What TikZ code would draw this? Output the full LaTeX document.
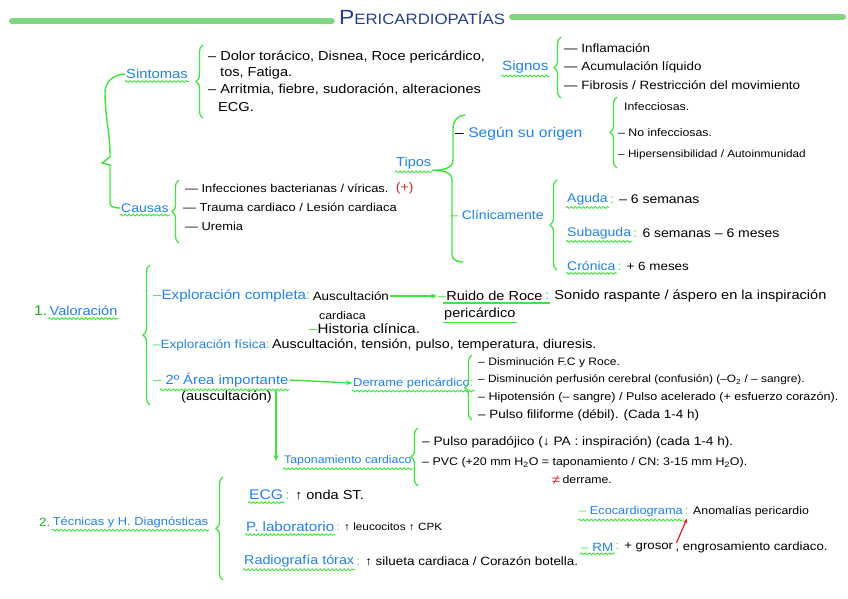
\documentclass[tikz,border=0pt]{standalone}
\usepackage{fontspec}
\setmainfont[FakeStretch=1.12]{Liberation Sans}
\usetikzlibrary{decorations.pathreplacing,decorations.pathmorphing,arrows.meta}
\definecolor{hb}{HTML}{1E82F0}
\definecolor{hg}{HTML}{3CE63C}
\definecolor{tg}{HTML}{80D680}
\definecolor{tb}{HTML}{23408F}
\definecolor{hr}{HTML}{E02020}
\definecolor{dg}{HTML}{22AA22}
\newcommand\fs[1]{\fontsize{#1}{#1}\selectfont}
\newcommand\gc{{\color{hg}:}}
\newcommand\gd{{\color{hg}–}}
\begin{document}
\begin{tikzpicture}[x=1pt,y=-1pt,
  every node/.style={inner sep=1pt,anchor=west},
  txt/.style={font=\fs{#1}, text=black},
  txt/.default=11,
  head/.style={font=\fs{#1}, text=hb},
  head/.default=12,
  brc/.style={draw=hg, line width=1.3pt, decorate, decoration={brace, amplitude=7pt}},
  wav/.style={draw=hg, line width=0.9pt, decorate, decoration={snake, amplitude=0.9pt, segment length=4pt}},
  gl/.style={draw=hg, line width=1.4pt},
  arr/.style={draw=hg, line width=1.4pt, -{Stealth[length=6pt,width=5pt]}},
]
\useasboundingbox (0,0) rectangle (848,599);
\newcommand\wul[1]{\draw[wav] ([yshift=-1.5pt]#1.south west) -- ([yshift=-1.5pt]#1.south east);}

% Title
\node[anchor=center, text=tb] (title) at (422,18) {\fs{20.5}P\fs{15}ERICARDIOPATÍAS};
\coordinate (tl) at (12,21);
\coordinate (tr) at (843,17);
\draw[tg, line width=6pt, line cap=round] (tl) -- ([xshift=-6pt,yshift=-3pt]title.west);
\draw[tg, line width=6pt, line cap=round] ([xshift=6pt,yshift=1pt]title.east) -- (tr);

% Sintomas
\node[head=13.2] (sin) at (125,74) {Sintomas}; \wul{sin}
\draw[brc] (203,118) -- (203,45);
\node[txt=13] (s1) at (207,57) {– Dolor torácico, Disnea, Roce pericárdico,};
\node[txt=13] (s2) at (219,73) {tos, Fatiga.};
\node[txt=13] (s3) at (207,90) {– Arritmia, fiebre, sudoración, alteraciones};
\node[txt=13] (s4) at (217,107) {ECG.};

% Signos
\node[head=13.5] (sig) at (501,67) {Signos}; \wul{sig}
\draw[brc] (561,98) -- (561,37);
\node[txt=12] (g1) at (563,48) {— Inflamación};
\node[txt=12] (g2) at (563,67) {— Acumulación líquido};
\node[txt=12] (g3) at (563,85) {— Fibrosis / Restricción del movimiento};

% Causas
\node[head=12.5] (cau) at (120,208) {Causas}; \wul{cau}
\draw[gl] (sin.west) to[out=180,in=90] (105,92) to[out=270,in=90] (110,157) -- (102,163) -- (110,165) -- (110,203) to[out=270,in=180] (cau.west);
\draw[brc] (179,243) -- (179,180);
\node[txt=11.5] (c1) at (184,188) {— Infecciones bacterianas / víricas.};
\node[font=\fs{12.5}, text=hr, xshift=5pt] (c1p) at (c1.east) {(+)};
\node[txt=11.5] (c2) at (182,207) {— Trauma cardiaco / Lesión cardiaca};
\node[txt=11.5] (c3) at (184,226) {— Uremia};

% Tipos
\node[head=13] (tip) at (395,163) {Tipos}; \wul{tip}
\draw[gl] (465,115) to[out=180,in=90] (453,128) -- (453,160) to[out=270,in=0] (tip.south east);
\draw[gl] (tip.south east) to[out=0,in=90] (452,180) -- (452,255) to[out=270,in=180] (463,262);
\node[head=14] (so) at (454,134) {{\color{black}–} Según su origen};
\draw[brc] (617,168) -- (617,97);
\node[txt=11] (o1) at (623,107) {Infecciosas.};
\node[txt=11] (o2) at (617,133) {– No infecciosas.};
\node[txt=10.5] (o3) at (617,155) {– Hipersensibilidad / Autoinmunidad};
\node[head=12.5] (cl) at (449,215) {\gd{} Clínicamente};
\draw[brc] (557,270) -- (557,180);
\node[head=12.5] (ag) at (566,199) {Aguda}; \wul{ag}
\node[txt=12.5] (agt) at (ag.east) {\gc{} – 6 semanas};
\node[head=12.5] (sa) at (566,233) {Subaguda}; \wul{sa}
\node[txt=12.5] (sat) at (sa.east) {\gc{} 6 semanas – 6 meses};
\node[head=12.5] (cr) at (566,266) {Crónica}; \wul{cr}
\node[txt=12] (crt) at (cr.east) {\gc{} + 6 meses};

% Valoracion
\node[font=\fs{14}, text=dg] (v1) at (33,311) {1.};
\node[head=13] (val) at (v1.east) {Valoración}; \wul{val}
\draw[brc] (150,405) -- (150,265);
\node[head=13.5] (ec) at (152,296) {\gd{}Exploración completa\gc};
\node[txt=12] (au) at (ec.east) {Auscultación};
\node[txt=11] (au2) at (318,316) {cardiaca};
\node[txt=13] (ru) at (437,296) {\gd{}Ruido de Roce};
\draw[arr] (au.east) -- (ru.west);
\draw[gl] ([xshift=6pt,yshift=-1pt]ru.south west) -- ([xshift=6pt,yshift=-1pt]ru.south east);
\node[txt=13] (ru2) at (443,314) {pericárdico};
\draw[gl] ([yshift=-1pt]ru2.south west) -- ([yshift=-1pt]ru2.south east);
\node[txt=13] (rut) at (ru.east) {\gc{} Sonido raspante / áspero en la inspiración};
\node[txt=13.5] (hc) at (308,329) {\gd{}Historia clínica.};
\node[head=12] (ef) at (152,345) {\gd{}Exploración física\gc};
\node[txt=12.8] (eft) at (ef.east) {Auscultación, tensión, pulso, temperatura, diuresis.};
\node[head=13.2] (ai) at (152,380) {\gd{} 2º Área importante};
\draw[wav] ([xshift=8pt,yshift=-1.5pt]ai.south west) -- ([yshift=-1.5pt]ai.south east);
\node[txt=13] (aus) at (180,397) {(auscultación)};
\node[head=11.5] (de) at (352,383) {Derrame pericárdico\gc}; \wul{de}
\draw[arr] (ai.east) -- (de.west);
\draw[brc] (472,420) -- (472,355);
\node[txt=10.8] (d1) at (477,363) {– Disminución F.C y Roce.};
\node[txt=10.6] (d2) at (477,380) {– Disminución perfusión cerebral (confusión) (–O\textsubscript{2} / – sangre).};
\node[txt=11.2] (d3) at (477,398) {– Hipotensión (– sangre) / Pulso acelerado (+ esfuerzo corazón).};
\node[txt=12] (d4) at (477,415) {– Pulso filiforme (débil). (Cada 1-4 h)};
\node[head=11] (tap) at (283,461) {Taponamiento cardiaco}; \wul{tap}
\coordinate (aib) at (276,390);
\draw[arr] (aib) -- (aib |- tap.west);
\draw[brc] (418,486) -- (418,428);
\node[txt=12.2] (t1) at (421,442) {– Pulso paradójico (↓ PA : inspiración) (cada 1-4 h).};
\node[txt=11.1] (t2) at (421,463) {– PVC (+20 mm H\textsubscript{2}O = taponamiento / CN: 3-15 mm H\textsubscript{2}O).};
\node[font=\fs{13}, text=hr] (ne) at (551,480) {≠};
\node[txt=11] (t3) at (ne.east) {derrame.};

% Tecnicas
\node[font=\fs{12}, text=dg] (t2n) at (38,522) {2.};
\node[head=11.5] (tec) at (t2n.east) {Técnicas y H. Diagnósticas}; \wul{tec}
\draw[brc] (223,580) -- (223,477);
\node[head=14] (ecg) at (248,495) {ECG}; \wul{ecg}
\node[txt=13] (ecgt) at (ecg.east) {\gc{} ↑ onda ST.};
\node[head=13.5] (lab) at (245,527) {P. laboratorio}; \wul{lab}
\node[txt=10.5] (labt) at (lab.east) {\gc{} ↑ leucocitos ↑ CPK};
\node[head=12.8] (rx) at (243,561) {Radiografía tórax}; \wul{rx}
\node[txt=12] (rxt) at (rx.east) {\gc{} ↑ silueta cardiaca / Corazón botella.};
\node[head=11.4] (eco) at (578,512) {\gd{} Ecocardiograma}; \wul{eco}
\node[txt=11] (ecot) at (eco.east) {\gc{} Anomalías pericardio};
\node[head=12] (rm) at (580,547) {\gd{} RM}; \wul{rm}
\node[txt=11.8] (rmt1) at (rm.east) {\gc{} + grosor};
\node[txt=11.8] (rmt2) at (rmt1.east) {, engrosamiento cardiaco.};
\draw[hr, line width=1.2pt, -{Stealth[length=5pt,width=4pt]}] ([xshift=2pt,yshift=-2pt]rmt1.north east) -- ([xshift=3pt]eco.south east);
\end{tikzpicture}
\end{document}
